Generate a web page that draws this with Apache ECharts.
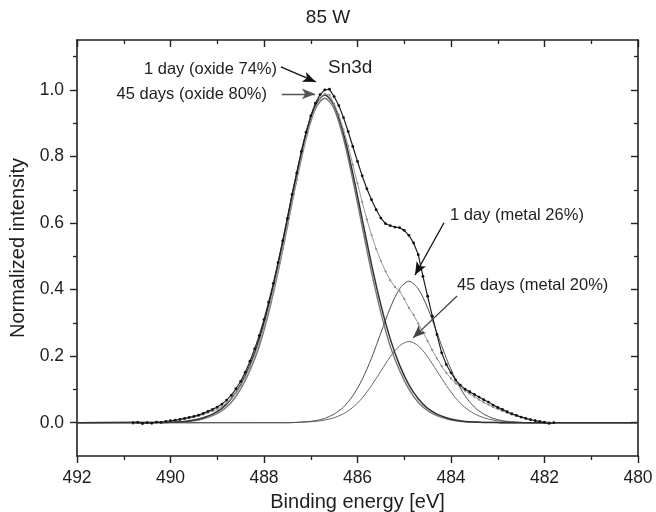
<!DOCTYPE html>
<html>
<head>
<meta charset="utf-8">
<script src="https://cdn.jsdelivr.net/npm/echarts@6/dist/echarts.min.js"></script>
<style>
html,body{margin:0;padding:0;background:#fff;}
#chart{width:656px;height:512px;}
</style>
</head>
<body>
<div id="chart"></div>
<script>
// ---- Data ----
const xTicks = [492, 490, 488, 486, 484, 482, 480];
const yTickLabels = [0.0, 0.2, 0.4, 0.6, 0.8, 1.0];
const yMinorTicks = [0.1, 0.3, 0.5, 0.7, 0.9, 1.1];

// measured spectra (binding energy, eV)
const energyData = [
  490.8,490.7,490.6,490.5,490.4,490.3,490.2,490.1,490.0,
  489.9,489.8,489.7,489.6,489.5,489.4,489.3,489.2,489.1,489.0,
  488.9,488.8,488.7,488.6,488.5,488.4,488.3,488.2,488.1,488.0,
  487.9,487.8,487.7,487.6,487.5,487.4,487.3,487.2,487.1,487.0,
  486.9,486.8,486.7,486.6,486.5,486.4,486.3,486.2,486.1,486.0,
  485.9,485.8,485.7,485.6,485.5,485.4,485.3,485.2,485.1,485.0,
  484.9,484.8,484.7,484.6,484.5,484.4,484.3,484.2,484.1,484.0,
  483.9,483.8,483.7,483.6,483.5,483.4,483.3,483.2,483.1,483.0,
  482.9,482.8,482.7,482.6,482.5,482.4,482.3,482.2,482.1,482.0,
  481.9,481.8
];
const day1Data = [
  0.000,0.001,-0.002,0.000,-0.001,0.002,0.001,0.004,0.006,
  0.008,0.010,0.013,0.016,0.019,0.023,0.028,0.034,0.040,0.047,
  0.056,0.068,0.082,0.102,0.124,0.152,0.185,0.222,0.262,0.310,
  0.362,0.419,0.481,0.546,0.614,0.686,0.750,0.815,0.873,0.922,
  0.960,0.986,1.000,1.002,0.980,0.953,0.917,0.875,0.830,0.785,
  0.742,0.703,0.670,0.640,0.615,0.598,0.592,0.588,0.586,0.578,
  0.563,0.540,0.505,0.440,0.380,0.320,0.265,0.210,0.175,0.150,
  0.128,0.113,0.101,0.093,0.085,0.077,0.069,0.062,0.053,0.046,
  0.040,0.033,0.027,0.022,0.017,0.013,0.009,0.006,0.003,0.001,
  -0.002,0.000
];
const day45Data = [
  -0.003,0.002,-0.004,-0.001,-0.003,0.001,0.000,0.003,0.005,
  0.007,0.009,0.011,0.014,0.017,0.020,0.025,0.030,0.035,0.041,
  0.049,0.060,0.072,0.090,0.111,0.137,0.168,0.202,0.240,0.287,
  0.339,0.395,0.457,0.522,0.591,0.661,0.730,0.797,0.856,0.907,
  0.947,0.974,0.988,0.985,0.958,0.925,0.881,0.832,0.775,0.719,
  0.663,0.611,0.564,0.522,0.486,0.455,0.428,0.408,0.395,0.372,
  0.345,0.324,0.298,0.272,0.245,0.218,0.193,0.170,0.150,0.133,
  0.118,0.106,0.096,0.087,0.078,0.069,0.061,0.054,0.047,0.041,
  0.035,0.030,0.025,0.021,0.017,0.013,0.010,0.007,0.005,0.003,
  0.001,-0.001
];

// fitted components
const energyFit = [
  492,
  490.3,490.1,489.9,489.7,489.5,489.3,489.1,488.9,488.7,488.5,
  488.3,488.1,487.9,487.7,487.5,487.3,487.1,486.9,486.7,486.5,
  486.3,486.1,485.9,485.7,485.5,485.3,485.1,484.9,484.7,484.5,
  484.3,484.1,483.9,483.7,483.5,483.3,483.1,482.9,482.7,482.5,
  482.3,482.1,
  480
];
const oxide1Fit = [
  0,
  0.001,0.001,0.002,0.004,0.008,0.015,0.026,0.043,0.072,0.114,
  0.173,0.252,0.354,0.476,0.612,0.749,0.870,0.954,0.985,0.954,
  0.870,0.749,0.612,0.476,0.354,0.252,0.173,0.114,0.072,0.043,
  0.026,0.015,0.008,0.004,0.002,0.001,0.001,0,0,0,
  0,0,
  0
];
const oxide45Fit = [
  0,
  0.001,0.001,0.002,0.003,0.006,0.012,0.021,0.036,0.061,0.101,
  0.157,0.230,0.331,0.452,0.589,0.729,0.854,0.943,0.975,0.943,
  0.854,0.729,0.589,0.452,0.331,0.230,0.157,0.101,0.061,0.036,
  0.021,0.012,0.006,0.003,0.002,0.001,0.001,0,0,0,
  0,0,
  0
];
const metal1Fit = [
  0,
  0,0,0,0,0,0,0,0,0,0,
  0,0,0,0,0,0.001,0.003,0.006,0.013,0.026,
  0.047,0.081,0.130,0.194,0.270,0.345,0.402,0.425,0.402,0.345,
  0.270,0.194,0.130,0.081,0.047,0.026,0.013,0.006,0.003,0.001,
  0,0,
  0
];
const metal45Fit = [
  0,
  0,0,0,0,0,0,0,0,0,0,
  0,0,0,0,0,0.001,0.002,0.004,0.008,0.015,
  0.027,0.046,0.074,0.112,0.155,0.198,0.231,0.244,0.231,0.198,
  0.155,0.112,0.074,0.046,0.027,0.015,0.008,0.004,0.002,0.001,
  0,0,
  0
];

// annotation arrows (data coordinates: [energy, intensity])
const arrows = [
  {from:[487.64,1.069], to:[486.89,1.024], color:'#111'},
  {from:[487.62,0.988], to:[486.91,0.988], color:'#555'},
  {from:[484.15,0.601], to:[484.77,0.444], color:'#111'},
  {from:[483.87,0.381], to:[484.81,0.255], color:'#444'}
];

// ---- Chart ----
const FONT = '"Liberation Sans", Arial, Helvetica, sans-serif';
const TXT = '#1e1e1e';
const AX = '#222';
const pair = (xs, ys) => xs.map((x, i) => [x, ys[i]]);

const chart = echarts.init(document.getElementById('chart'), null, {renderer:'canvas'});

const axisLineStyle = {color: AX, width: 1.6};
function xAx(pos, main) {
  return {
    type:'value', position:pos, min:480, max:492, interval:2, inverse:true,
    axisLine:{show:true, onZero:false, lineStyle:axisLineStyle},
    axisTick:{show:true, inside:!main, length:7, lineStyle:{color:AX, width:1.4}},
    minorTick:{show:true, splitNumber:2, length:4, lineStyle:{color:AX, width:1.3}},
    axisLabel:{show:main, fontSize:17.5, color:TXT, fontFamily:FONT, margin:13},
    splitLine:{show:false}, minorSplitLine:{show:false},
    name: main ? 'Binding energy [eV]' : '',
    nameLocation:'middle', nameGap:36,
    nameTextStyle:{fontSize:20, color:TXT, fontFamily:FONT}
  };
}
function yAx(pos, main, minor) {
  return {
    type:'value', position:pos, min:-0.1, max:1.15,
    axisLine:{show:!minor, onZero:false, lineStyle:axisLineStyle},
    axisTick:{show:true, inside:pos==='right', length: minor ? 4 : 7,
      customValues: minor ? yMinorTicks : yTickLabels,
      lineStyle:{color:AX, width: minor ? 1.3 : 1.4}},
    axisLabel:{show:main && !minor, customValues:yTickLabels,
      formatter:(v)=>Number(v).toFixed(1),
      fontSize:17.5, color:TXT, fontFamily:FONT, margin:13},
    splitLine:{show:false},
    name: (main && !minor) ? 'Normalized intensity' : '',
    nameLocation:'middle', nameGap:47,
    nameTextStyle:{fontSize:20, color:TXT, fontFamily:FONT}
  };
}

function fitSeries(name, ys, color, width) {
  return {
    name, type:'line', xAxisIndex:0, yAxisIndex:0,
    data: pair(energyFit, ys), showSymbol:false, symbol:'none',
    smooth:0.3, lineStyle:{color, width}, silent:true, z:2
  };
}

const option = {
  animation:false,
  backgroundColor:'#fff',
  grid:{left:77, right:18, top:40, bottom:56, containLabel:false, outerBoundsMode:'none'},
  xAxis:[xAx('bottom', true), xAx('top', false)],
  yAxis:[yAx('left', true, false), yAx('left', false, true), yAx('right', false, false), yAx('right', false, true)],
  series:[
    fitSeries('metal 45 days', metal45Fit, '#6a6a6a', 1),
    fitSeries('metal 1 day', metal1Fit, '#505050', 1),
    fitSeries('oxide 45 days', oxide45Fit, '#777777', 1.4),
    fitSeries('oxide 1 day', oxide1Fit, '#333333', 1.5),
    {
      name:'45 days', type:'line', xAxisIndex:0, yAxisIndex:0,
      data: pair(energyData, day45Data),
      symbol:'circle', symbolSize:2.2, showSymbol:true,
      itemStyle:{color:'#8a8a8a'}, lineStyle:{color:'#9a9a9a', width:1}, z:3, silent:true
    },
    {
      name:'1 day', type:'line', xAxisIndex:0, yAxisIndex:0,
      data: pair(energyData, day1Data),
      symbol:'circle', symbolSize:2.8, showSymbol:true,
      itemStyle:{color:'#111'}, lineStyle:{color:'#222', width:1.2}, z:4, silent:true,
      markLine:{
        silent:true, animation:false,
        symbol:['none','arrow'], symbolSize:[8,13],
        label:{show:false}, emphasis:{disabled:true},
        data: arrows.map(a => [
          {coord:a.from, lineStyle:{color:a.color, width:1.3, type:'solid'}, itemStyle:{color:a.color}},
          {coord:a.to, itemStyle:{color:a.color}}
        ])
      }
    }
  ],
  graphic:[
    {type:'text', left:'center', top:8, style:{text:'85 W', font:'19px '+FONT, fill:TXT}, z:10},
    {type:'text', x:277, y:69, style:{text:'1 day (oxide 74%)', font:'16.5px '+FONT, fill:TXT, textAlign:'right', textVerticalAlign:'middle'}, z:10},
    {type:'text', x:267, y:94, style:{text:'45 days (oxide 80%)', font:'16.5px '+FONT, fill:TXT, textAlign:'right', textVerticalAlign:'middle'}, z:10},
    {type:'text', x:328, y:68, style:{text:'Sn3d', font:'19px '+FONT, fill:TXT, textAlign:'left', textVerticalAlign:'middle'}, z:10},
    {type:'text', x:450, y:215, style:{text:'1 day (metal 26%)', font:'16.5px '+FONT, fill:TXT, textAlign:'left', textVerticalAlign:'middle'}, z:10},
    {type:'text', x:457, y:285, style:{text:'45 days (metal 20%)', font:'16.5px '+FONT, fill:TXT, textAlign:'left', textVerticalAlign:'middle'}, z:10}
  ]
};
chart.setOption(option);
</script>
</body>
</html>
